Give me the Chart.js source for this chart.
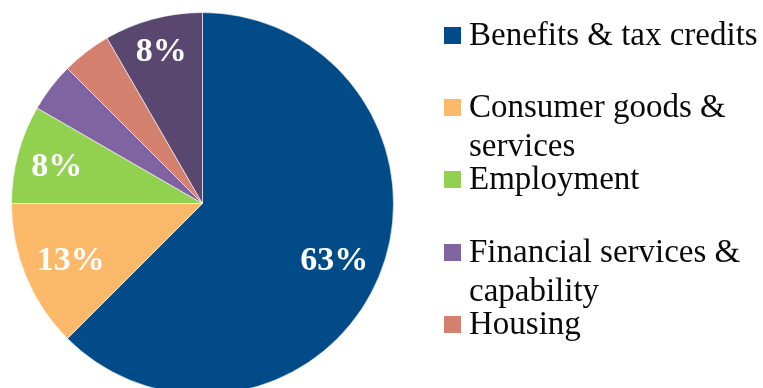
<!DOCTYPE html>
<html>
<head>
<meta charset="utf-8">
<script src="https://cdn.jsdelivr.net/npm/chart.js@4.4.1/dist/chart.umd.min.js"></script>
<style>
  html, body { margin: 0; padding: 0; background: #fff; }
  #wrap { width: 763px; height: 388px; overflow: hidden; }
</style>
</head>
<body>
<div id="wrap"><canvas id="myChart" width="763" height="397"></canvas></div>
<script>
	var categories = [ 'Benefits & tax credits', 'Consumer goods & services', 'Employment',
			'Financial services & capability', 'Housing', 'Other' ];
	var counts = [ 15, 3, 2, 1, 1, 2 ];
	var colours = [ '#024b89', '#fbb969', '#92d050', '#8064a2', '#d4806f', '#594770' ];

	var VISIBLE_HEIGHT = 388;

	// split a legend entry into lines that fit the given width
	function wrapText(ctx, text, maxWidth) {
		var words = text.split(' ');
		var lines = [];
		var line = '';
		words.forEach(function (w) {
			var test = line ? line + ' ' + w : w;
			if (line && ctx.measureText(test).width > maxWidth) {
				lines.push(line);
				line = w;
			} else {
				line = test;
			}
		});
		lines.push(line);
		return lines;
	}

	// percentage labels inside the larger slices
	var sliceLabels = {
		id : 'sliceLabels',
		afterDatasetsDraw : function (chart) {
			var ctx = chart.ctx;
			var meta = chart.getDatasetMeta(0);
			var total = counts.reduce(function (a, b) { return a + b; }, 0);
			ctx.save();
			ctx.font = 'bold 34px "Liberation Serif"';
			ctx.fillStyle = '#ffffff';
			ctx.textAlign = 'center';
			ctx.textBaseline = 'alphabetic';
			meta.data.forEach(function (arc, i) {
				var pct = counts[i] / total * 100;
				if (pct < 5) return;
				var text = Math.round(pct) + '%';
				var p = arc.getProps([ 'x', 'y', 'startAngle', 'endAngle', 'outerRadius' ], true);
				var mid = (p.startAngle + p.endAngle) / 2;
				var dx = Math.cos(mid), dy = Math.sin(mid);
				var w = ctx.measureText(text).width / 2, h = 11.5;
				// push the label out until its far corner sits just inside the rim
				var b = Math.abs(dx) * w + Math.abs(dy) * h;
				var reach = p.outerRadius - 12.5;
				var d = -b + Math.sqrt(b * b - (w * w + h * h - reach * reach));
				ctx.fillText(text, p.x + dx * d, p.y + dy * d + h);
			});
			ctx.restore();
		}
	};

	// legend on the right, one fixed slot per entry; entries below the frame are dropped
	var sideLegend = {
		id : 'sideLegend',
		afterDraw : function (chart) {
			var ctx = chart.ctx;
			ctx.save();
			ctx.font = '33px "Liberation Serif"';
			ctx.textBaseline = 'alphabetic';
			categories.forEach(function (name, i) {
				var top = 27 + Math.round(i * 72.2);
				if (top + 17 > VISIBLE_HEIGHT) return;
				ctx.fillStyle = colours[i];
				ctx.fillRect(444, top, 17, 17);
				ctx.fillStyle = '#0a0a0a';
				wrapText(ctx, name, 294).forEach(function (line, j) {
					ctx.fillText(line, 469, top + 18 + j * 39);
				});
			});
			ctx.restore();
		}
	};

	var ctx = document.getElementById('myChart');
	var myChart = new Chart(ctx, {
		type : 'pie',
		data : {
			labels : categories,
			datasets : [ {
				data : counts,
				backgroundColor : colours,
				borderColor : 'rgba(255, 255, 255, 0.6)',
				borderWidth : 1
			} ]
		},
		options : {
			responsive : false,
			animation : false,
			layout : {
				padding : { top : 12, left : 11, right : 369, bottom : 2 }
			},
			plugins : {
				legend : { display : false },
				tooltip : { enabled : false }
			}
		},
		plugins : [ sliceLabels, sideLegend ]
	});
</script>
</body>
</html>
